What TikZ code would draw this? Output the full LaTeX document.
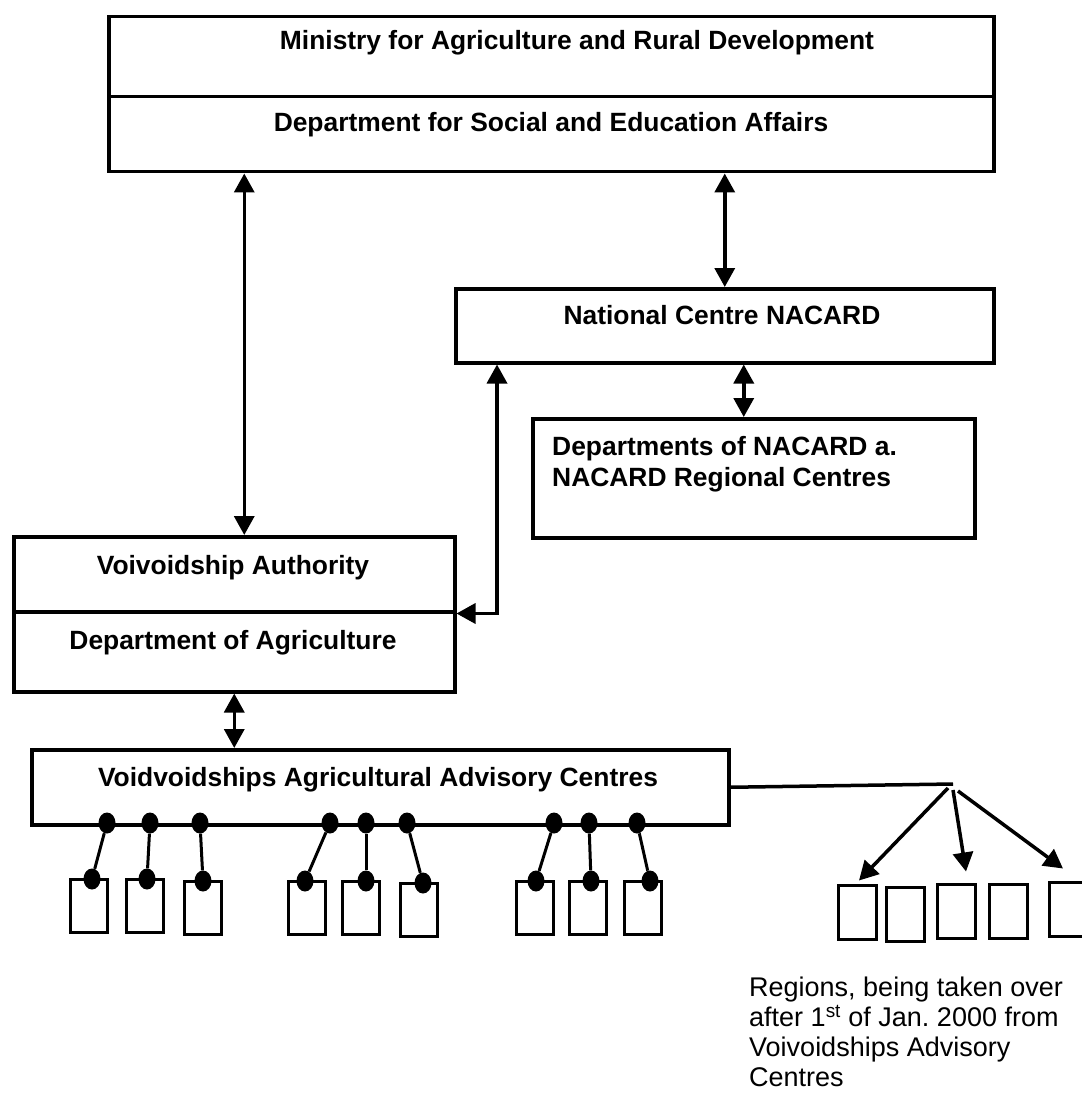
\documentclass[tikz,border=0pt]{standalone}
\usepackage{fontspec}
\setmainfont{Liberation Sans}
\usetikzlibrary{positioning,arrows.meta,shapes.geometric}
\tikzset{
  box/.style={draw, line width=3.5pt, inner sep=0pt, anchor=north west},
  title/.style={font=\fontsize{26.4}{31}\selectfont\bfseries, inner sep=0pt},
  dot/.style={ellipse, fill, inner sep=0pt, minimum width=17pt, minimum height=21pt},
  unit/.style={draw, line width=3pt, inner sep=0pt, minimum width=37pt, minimum height=53pt},
  link/.style={line width=3.5pt},
  >={Triangle[length=19pt,width=20pt]}
}

\begin{document}
\begin{tikzpicture}[x=1pt,y=-1pt]
  \useasboundingbox (0,0) rectangle (1081,1102);

  % boxes
  \node[box, minimum width=885pt, minimum height=80pt] (ministry) at (107,15) {};
  \node[box, minimum width=885pt, minimum height=75pt] (social) at (107,95) {};
  \node[box, minimum width=538pt, minimum height=74pt] (nacard) at (454,287) {};
  \node[box, minimum width=442pt, minimum height=119pt] (depts) at (531,417) {};
  \node[box, minimum width=441pt, minimum height=75pt] (auth) at (12,535) {};
  \node[box, minimum width=441pt, minimum height=80pt] (agri) at (12,610) {};
  \node[box, minimum width=697pt, minimum height=75pt] (vaac) at (30,748) {};

  % texts
  \node[title, anchor=base] (tministry) at (577,49.5) {Ministry for Agriculture and Rural Development};
  \node[title, anchor=base] (tsocial) at (551,131.5) {Department for Social and Education Affairs};
  \node[title, anchor=base] (tnacard) at (722,324.5) {National Centre NACARD};
  \node[title, anchor=north west, align=left] (tdepts) at (552,436) {Departments of NACARD a.\\NACARD Regional Centres};
  \node[title, anchor=base] (tauth) at (233,574.5) {Voivoidship Authority};
  \node[title, anchor=base] (tagri) at (233,649.5) {Department of Agriculture};
  \node[title, anchor=base] (tvaac) at (378,786.5) {Voidvoidships Agricultural Advisory Centres};
  \node[font=\fontsize{27}{30}\selectfont, inner sep=0pt, anchor=north west, align=left] (tregions) at (749,977)
    {Regions, being taken over\\after 1\textsuperscript{st} of Jan.\ 2000 from\\Voivoidships Advisory\\Centres};

  % links between the levels
  \draw[link,<->] ([xshift=10pt]auth.north) -- ([xshift=10pt]auth.north |- social.south);
  \draw[link,<->] (nacard.north) -- (nacard.north |- social.south);
  \draw[link,<->] ([xshift=-10pt]depts.north) -- ([xshift=-10pt]depts.north |- nacard.south);
  \draw[link,<->] ([xshift=43pt]nacard.south west) |- (auth.south east);
  \draw[link,<->] (agri.south) -- (agri.south |- vaac.north);

  % advisory centres hanging below
  \foreach \i/\tx/\bx/\ux/\uy in {1/107/92/88.5/906, 2/150/147/145/906, 3/200/203/202.5/908,
                                  4/330/305/307/908, 5/366/366/361/908, 6/407/423/418.5/910,
                                  7/554/536/535/908, 8/589/591/588/908, 9/637/650/643/908} {
    \node[unit] (u\i) at (\ux,\uy) {};
    \node[dot] (t\i) at (\tx,823) {};
    \node[dot] (b\i) at (\bx,{\uy-27}) {};
    \draw[line width=3pt] (t\i) -- (b\i);
  }

  % regions taken over
  \node[unit, minimum width=38pt, minimum height=54pt] (r1) at (857,912) {};
  \node[unit, minimum width=38pt, minimum height=54pt] (r2) at (905.5,914) {};
  \node[unit, minimum width=38pt, minimum height=54pt] (r3) at (956,911) {};
  \node[unit, minimum width=38pt, minimum height=54pt] (r4) at (1008.5,911) {};
  \node[unit, minimum width=38pt, minimum height=54pt] (r5) at (1068,909) {};
  \coordinate (fork) at (953,784);
  \draw[link] (vaac.east) -- (fork);
  \draw[link,->] ([xshift=-5pt,yshift=-4pt]fork) -- ([xshift=2pt,yshift=3pt]r1.north);
  \draw[link,->] ([yshift=-6pt]fork) -- ([xshift=10pt,yshift=11pt]r3.north);
  \draw[link,->] ([xshift=5pt,yshift=-7pt]fork) -- ([xshift=-5pt,yshift=12pt]r5.north);
\end{tikzpicture}
\end{document}
